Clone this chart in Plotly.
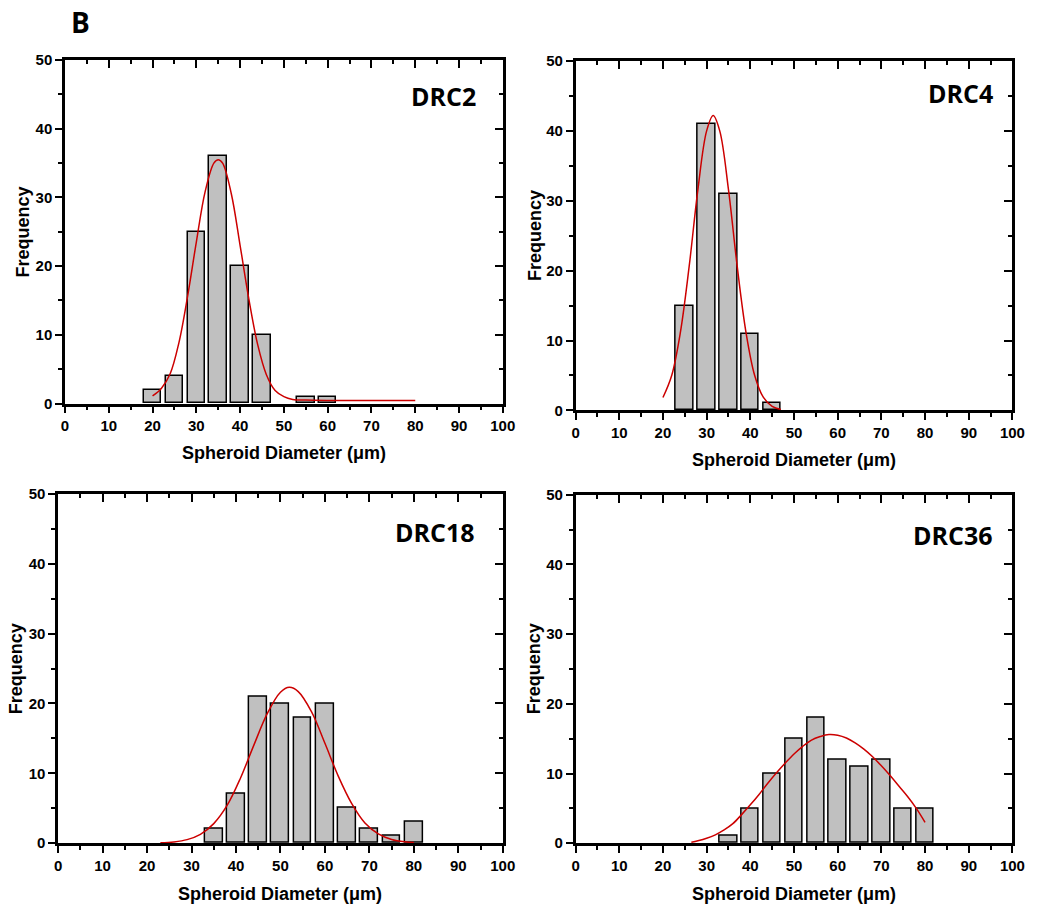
"""
Spheroid diameter histograms (DRC2, DRC4, DRC18, DRC36) with Gaussian fits.
"""

# =================================================================================================
#   IMPORTS
# =================================================================================================

import plotly.graph_objects as go

# =================================================================================================
#   CONSTANTS
# =================================================================================================

PANEL_NAMES = ["DRC2", "DRC4", "DRC18", "DRC36"]

# Histogram bins (bin centre, um) and counts
DRC2_BINS = [20, 25, 30, 35, 40, 45, 55, 60]
DRC2_COUNTS = [2, 4, 25, 36, 20, 10, 1, 1]

DRC4_BINS = [25, 30, 35, 40, 45]
DRC4_COUNTS = [15, 41, 31, 11, 1]

DRC18_BINS = [35, 40, 45, 50, 55, 60, 65, 70, 75, 80]
DRC18_COUNTS = [2, 7, 21, 20, 18, 20, 5, 2, 1, 3]

DRC36_BINS = [35, 40, 45, 50, 55, 60, 65, 70, 75, 80]
DRC36_COUNTS = [1, 5, 10, 15, 18, 12, 11, 12, 5, 5]

# Fitted curves
DRC2_FIT_X = [20, 22, 24, 26, 28, 30, 32, 34, 35, 36, 38, 40, 42, 44, 46, 48, 50, 52, 55, 60, 70, 80]
DRC2_FIT_Y = [1.1, 2.2, 4.3, 8.8, 15.6, 23.5, 30.8, 35.0, 35.5, 35.0, 30.5, 23.0, 15.2, 8.6,
              4.2, 1.9, 1.0, 0.6, 0.5, 0.45, 0.45, 0.45]

DRC4_FIT_X = [20, 22, 24, 26, 28, 30, 31.5, 33, 35, 37, 39, 41, 43, 45, 47]
DRC4_FIT_Y = [1.85, 5.0, 11.2, 20.6, 31.6, 40.0, 42.2, 40.0, 31.6, 20.6, 11.2, 5.0, 1.85, 0.57, 0.14]

DRC18_FIT_X = [23, 26, 29, 32, 35, 38, 41, 44, 47, 50, 52, 54, 57, 60, 63, 66, 69, 72, 75, 78, 80]
DRC18_FIT_Y = [0.05, 0.18, 0.51, 1.27, 2.8, 5.4, 9.3, 14.0, 18.5, 21.6, 22.3, 21.7, 18.8, 14.3,
               9.6, 5.7, 2.9, 1.34, 0.54, 0.19, 0.09]

DRC36_FIT_X = [26.5, 28, 30, 32, 34, 36, 38, 40, 42, 44, 46, 48, 50, 52, 54, 56, 58, 60, 62, 64,
               66, 68, 70, 72, 74, 76, 78, 80]
DRC36_FIT_Y = [0.15, 0.35, 0.7, 1.2, 1.9, 2.8, 4.1, 5.5, 7.0, 8.6, 10.1, 11.5, 12.8, 13.9, 14.8,
               15.3, 15.6, 15.5, 15.1, 14.4, 13.5, 12.4, 11.1, 9.7, 8.2, 6.7, 5.0, 3.0]

X_TITLE = "Spheroid Diameter (μm)"
Y_TITLE = "Frequency"

W, H = 1050, 914

# Plot areas in pixels: (left, right, top, bottom)
PANEL_BOXES = [
    (62, 507, 52, 402),
    (581, 1025, 53, 409),
    (55, 507, 494, 850),
    (581, 1025, 495, 850),
]

AXIS_FONT = "Liberation Sans, Arial, sans-serif"
LABEL_FONT = "Open Sans, sans-serif"

BAR_FILL = "#c0c0c0"
FIT_RED = "#cc0000"

# =================================================================================================
#   FUNCTIONS
# =================================================================================================


def main_axes(box, suffix):
    """Bottom / left axes with outward ticks and labels."""
    left, right, top, bottom = box
    minor = dict(ticks="outside", ticklen=4, tickwidth=2, tickcolor="black", dtick=5)
    common = dict(
        showline=True,
        linewidth=2.5,
        linecolor="black",
        mirror=True,
        showgrid=False,
        zeroline=False,
        ticks="outside",
        ticklen=7,
        tickwidth=2,
        tickcolor="black",
        tick0=0,
        dtick=10,
        minor=minor,
        tickfont=dict(family=AXIS_FONT, size=15, color="black", weight="bold"),
    )
    xaxis = dict(common, domain=[left / W, right / W], anchor=f"y{suffix}", range=[0, 100])
    yaxis = dict(common, domain=[1 - bottom / H, 1 - top / H], anchor=f"x{suffix}", range=[0, 50])
    return xaxis, yaxis


def mirror_axes(idx, over_suffix):
    """Top / right axes carrying the inward ticks."""
    common = dict(
        showline=False,
        showgrid=False,
        zeroline=False,
        showticklabels=False,
        ticks="inside",
        ticklen=8,
        tickwidth=2,
        tickcolor="black",
        tick0=0,
        dtick=10,
        minor=dict(ticks="inside", ticklen=4, tickwidth=2, tickcolor="black", dtick=5),
    )
    xaxis = dict(common, overlaying=f"x{over_suffix}", side="top", anchor=f"y{idx}", range=[0, 100])
    yaxis = dict(common, overlaying=f"y{over_suffix}", side="right", anchor=f"x{idx}", range=[0, 50])
    return xaxis, yaxis


# =================================================================================================
#   FIGURE
# =================================================================================================

panels = [
    (DRC2_BINS, DRC2_COUNTS, DRC2_FIT_X, DRC2_FIT_Y),
    (DRC4_BINS, DRC4_COUNTS, DRC4_FIT_X, DRC4_FIT_Y),
    (DRC18_BINS, DRC18_COUNTS, DRC18_FIT_X, DRC18_FIT_Y),
    (DRC36_BINS, DRC36_COUNTS, DRC36_FIT_X, DRC36_FIT_Y),
]

# Label positions (data coords) and title positions (pixels)
name_pos = [(86.5, 44.7), (88.1, 45.4), (84.8, 44.6), (86.3, 44.2)]
x_title_y = [452, 460, 902, 902]
y_title_x = [19, 539, 12, 539]

fig = go.Figure()
layout_axes = {}
annotations = []

for i, (bins, counts, fit_x, fit_y) in enumerate(panels):
    idx = i + 1
    suffix = "" if idx == 1 else str(idx)
    mirror_idx = idx + 4

    fig.add_trace(
        go.Bar(
            x=bins,
            y=counts,
            width=4,
            marker=dict(color=BAR_FILL, line=dict(color="black", width=1.5)),
            xaxis=f"x{suffix}",
            yaxis=f"y{suffix}",
            showlegend=False,
        )
    )
    fig.add_trace(
        go.Scatter(
            x=fit_x,
            y=fit_y,
            mode="lines",
            line=dict(color=FIT_RED, width=1.5, shape="spline"),
            xaxis=f"x{suffix}",
            yaxis=f"y{suffix}",
            showlegend=False,
        )
    )
    # empty trace so the mirror subplot is drawn
    fig.add_trace(
        go.Scatter(
            x=[None],
            y=[None],
            mode="lines",
            xaxis=f"x{mirror_idx}",
            yaxis=f"y{mirror_idx}",
            showlegend=False,
            hoverinfo="skip",
        )
    )

    xa, ya = main_axes(PANEL_BOXES[i], suffix)
    layout_axes[f"xaxis{suffix}"] = xa
    layout_axes[f"yaxis{suffix}"] = ya

    mxa, mya = mirror_axes(mirror_idx, suffix)
    layout_axes[f"xaxis{mirror_idx}"] = mxa
    layout_axes[f"yaxis{mirror_idx}"] = mya

    left, right, top, bottom = PANEL_BOXES[i]

    annotations.append(dict(
        text=f"<b>{PANEL_NAMES[i]}</b>",
        x=name_pos[i][0], y=name_pos[i][1],
        xref=f"x{suffix}", yref=f"y{suffix}",
        showarrow=False,
        font=dict(family=LABEL_FONT, size=25, color="black"),
    ))
    annotations.append(dict(
        text=f"<b>{X_TITLE}</b>",
        x=(left + right) / 2 / W, y=1 - x_title_y[i] / H,
        xref="paper", yref="paper",
        xanchor="center", yanchor="middle",
        showarrow=False,
        font=dict(family=AXIS_FONT, size=18, color="black"),
    ))
    annotations.append(dict(
        text=f"<b>{Y_TITLE}</b>",
        x=y_title_x[i] / W, y=1 - (top + bottom) / 2 / H,
        xref="paper", yref="paper",
        xanchor="center", yanchor="middle",
        textangle=-90,
        showarrow=False,
        font=dict(family=AXIS_FONT, size=18, color="black"),
    ))

annotations.append(dict(
    text="<b>B</b>",
    x=78 / W, y=1 - 13 / H,
    xref="paper", yref="paper",
    xanchor="center", yanchor="middle",
    showarrow=False,
    font=dict(family=LABEL_FONT, size=28, color="black"),
))

fig.update_layout(
    width=W,
    height=H,
    margin=dict(l=0, r=0, t=0, b=0),
    paper_bgcolor="white",
    plot_bgcolor="white",
    bargap=0,
    hovermode=False,
    annotations=annotations,
    **layout_axes,
)

# Drop the default page margin so the figure sits at the window origin
fig.write_html(
    "out.html",
    config={"displayModeBar": False},
    post_script="document.body.style.margin='0';document.body.style.overflow='hidden';",
)
